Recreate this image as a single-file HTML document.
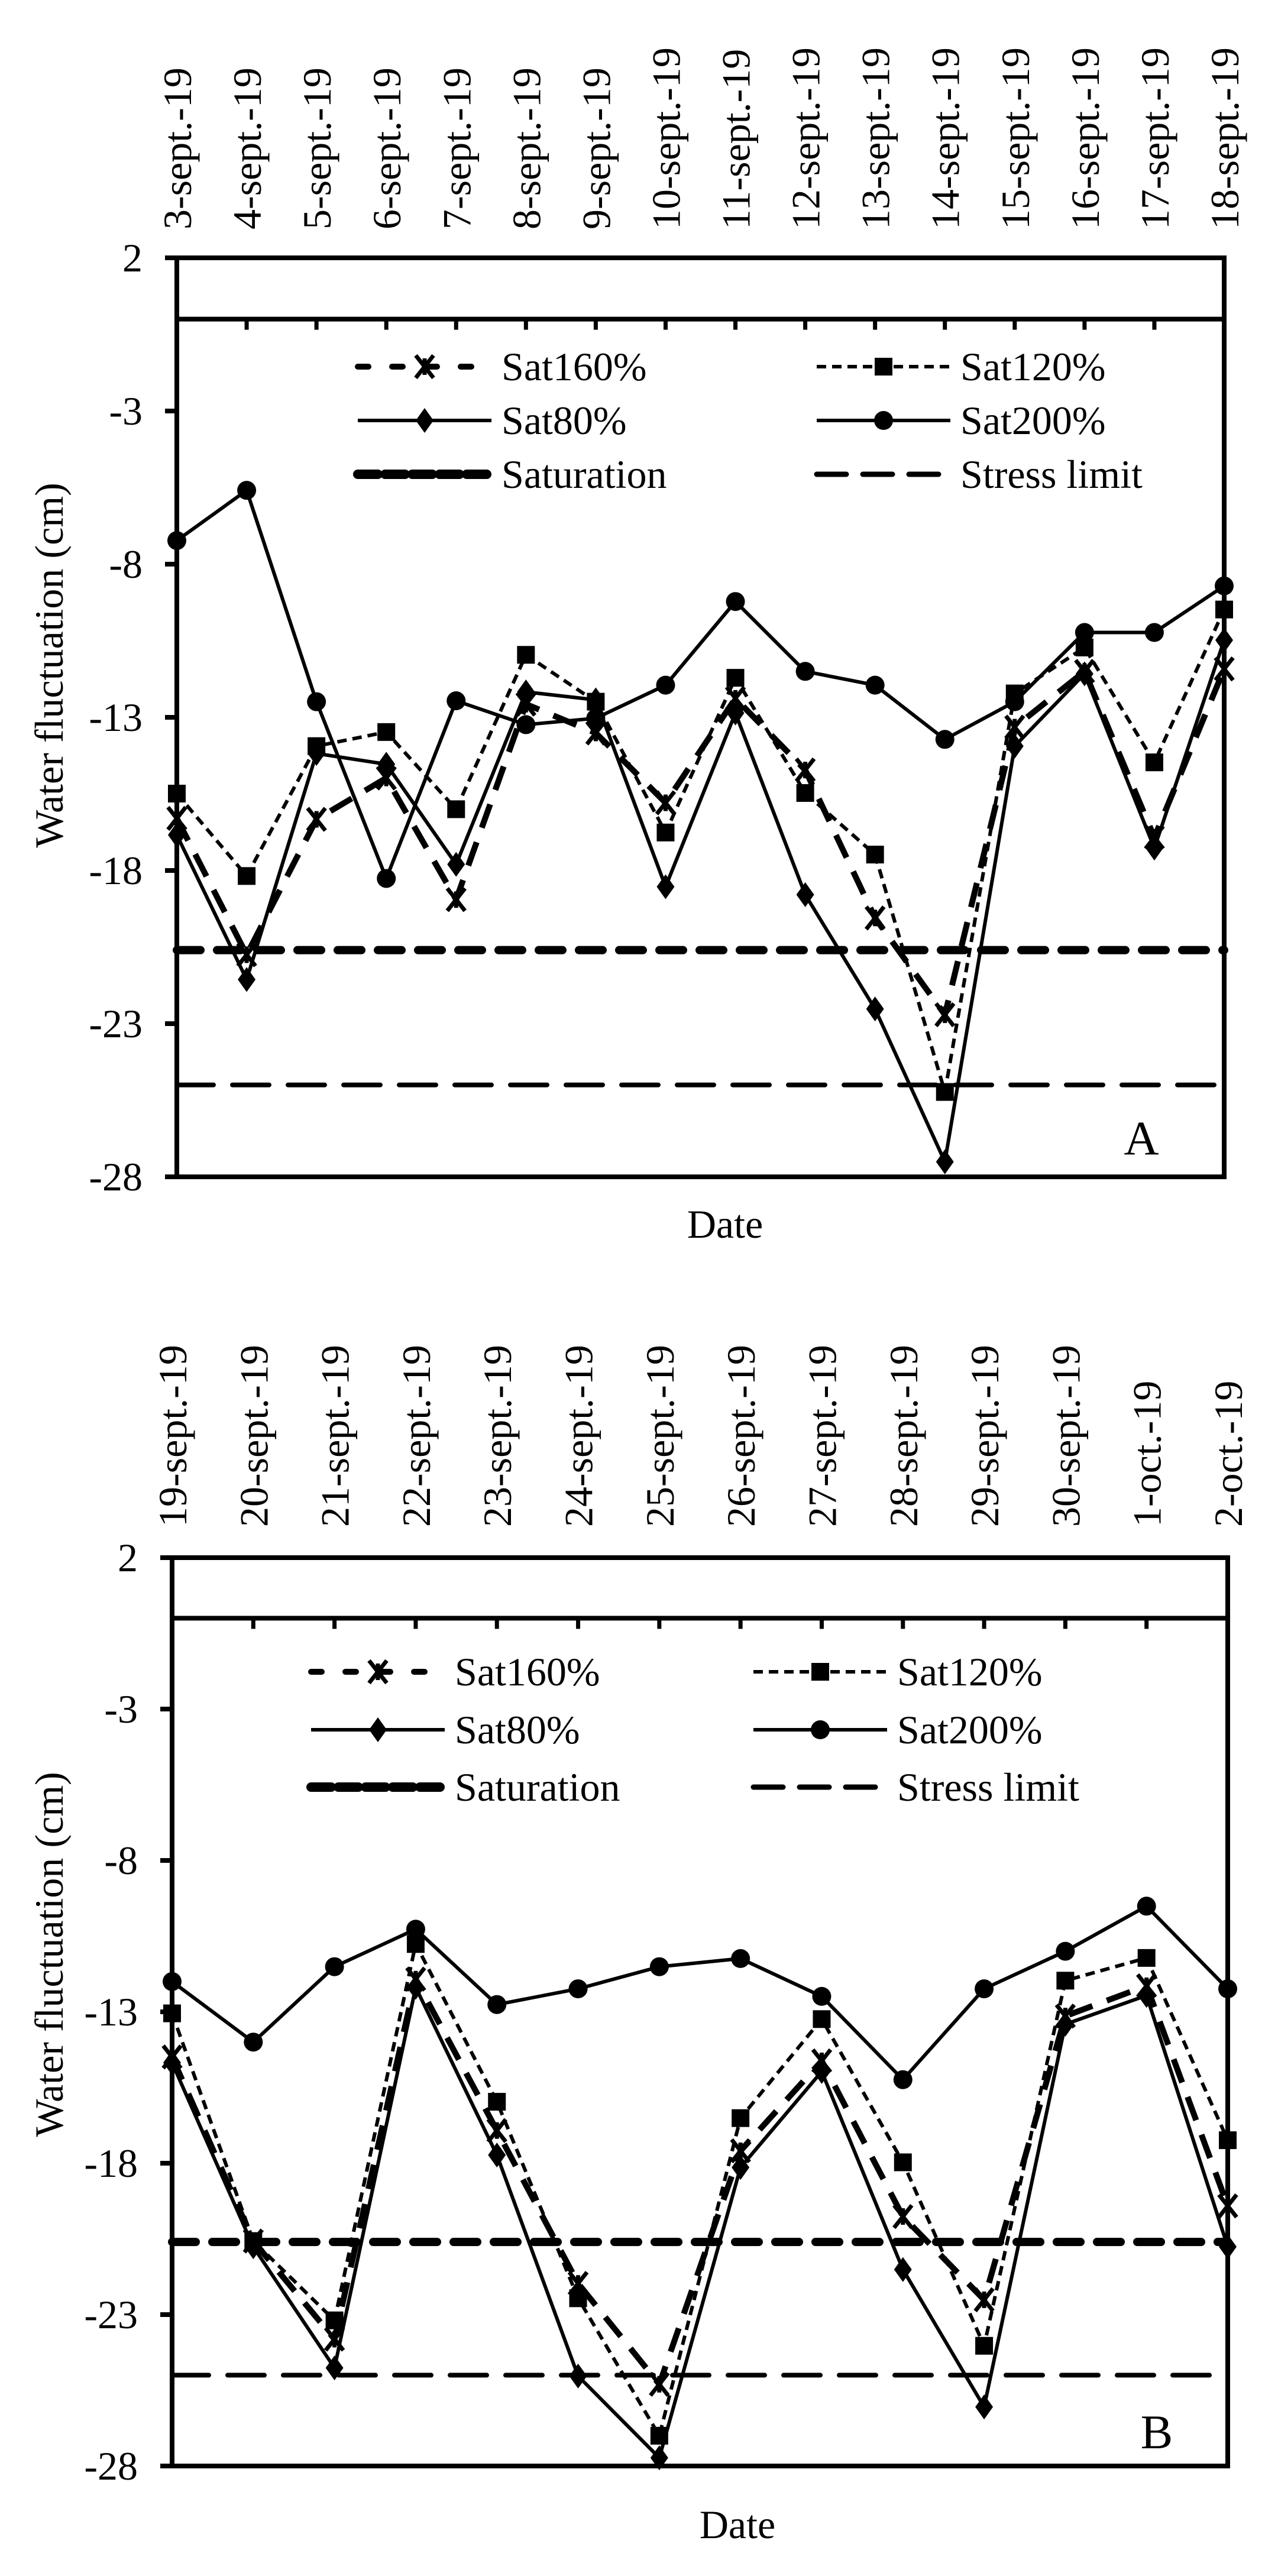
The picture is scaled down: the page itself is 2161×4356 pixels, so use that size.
<!DOCTYPE html>
<html><head><meta charset="utf-8"><style>
html,body{margin:0;padding:0;background:#fff;}
svg{display:block;font-family:"Liberation Serif",serif;}
</style></head><body>
<svg id="chart" width="2161" height="4356" viewBox="0 0 2161 4356" xmlns="http://www.w3.org/2000/svg"></svg>
<script>
// ---- Panel A data ----
const datesA = ["3-sept.-19","4-sept.-19","5-sept.-19","6-sept.-19","7-sept.-19","8-sept.-19","9-sept.-19","10-sept.-19","11-sept.-19","12-sept.-19","13-sept.-19","14-sept.-19","15-sept.-19","16-sept.-19","17-sept.-19","18-sept.-19"];
const sat160A = [-16.3,-20.75,-16.33,-14.98,-18.95,-12.57,-13.51,-15.79,-12.38,-14.72,-19.55,-22.71,-13.32,-11.5,-16.92,-11.42];
const sat120A = [-15.49,-18.18,-13.94,-13.48,-16.0,-10.96,-12.49,-16.76,-11.71,-15.47,-17.48,-25.23,-12.22,-10.72,-14.47,-9.48];
const sat80A = [-16.84,-21.56,-14.18,-14.53,-17.8,-12.17,-12.43,-18.53,-12.86,-18.79,-22.52,-27.51,-13.94,-11.58,-17.27,-10.48];
const sat200A = [-7.23,-5.59,-12.49,-18.26,-12.46,-13.24,-13.03,-11.95,-9.22,-11.5,-11.95,-13.72,-12.49,-10.23,-10.23,-8.71];
// ---- Panel B data ----
const datesB = ["19-sept.-19","20-sept.-19","21-sept.-19","22-sept.-19","23-sept.-19","24-sept.-19","25-sept.-19","26-sept.-19","27-sept.-19","28-sept.-19","29-sept.-19","30-sept.-19","1-oct.-19","2-oct.-19"];
const sat160B = [-14.49,-20.57,-23.81,-11.92,-16.92,-21.97,-25.3,-17.59,-14.62,-19.76,-22.51,-13.14,-12.14,-19.41];
const sat120B = [-13.05,-20.57,-23.19,-10.76,-15.97,-22.46,-27.0,-16.51,-13.24,-17.97,-24.03,-11.97,-11.22,-17.24];
const sat80B = [-14.68,-20.76,-24.76,-12.19,-17.73,-25.03,-27.73,-18.14,-14.97,-21.51,-26.05,-13.41,-12.46,-20.76];
const sat200B = [-12.0,-14.0,-11.51,-10.27,-12.76,-12.24,-11.51,-11.24,-12.49,-15.24,-12.24,-11.0,-9.51,-12.24];
const saturationLevel = -20.6;
const stressLevel = -25;
const yTicks = [2,-3,-8,-13,-18,-23,-28];
const yMin = -28, yMax = 2;

const NS = "http://www.w3.org/2000/svg";
const svg = document.getElementById("chart");
function mk(tag, attrs, parent){
  const e = document.createElementNS(NS, tag);
  for (const k in attrs) e.setAttribute(k, attrs[k]);
  (parent||svg).appendChild(e);
  return e;
}

function drawPanel(p){
  const g = mk("g", {});
  
  
  const n = p.dates.length;
  const xs = i => p.left + (p.right - p.left) * i / (n - 1);
  const ys = v => p.top + (yMax - v) / (yMax - yMin) * (p.bottom - p.top);

  const sat = mk("line", {x1:p.left, x2:p.right, y1:ys(saturationLevel), y2:ys(saturationLevel), stroke:"#000","stroke-width":14,"stroke-dasharray":"40 28","stroke-linecap":"round"}, g);
  
  
  const st = mk("line", {x1:p.left, x2:p.right, y1:ys(stressLevel), y2:ys(stressLevel), stroke:"#000","stroke-width":8,"stroke-dasharray":"62 32","stroke-linecap":"round"}, g);
  
  

  const box = mk("rect", {x:p.left, y:p.top, width:p.right-p.left, height:p.bottom-p.top, fill:"none", stroke:"#000","stroke-width":8}, g);
  
  
  const zl = mk("line", {x1:p.left, x2:p.right, y1:ys(0), y2:ys(0), stroke:"#000","stroke-width":8}, g);
  
  

  for (let i = 0; i < n; i++){
    const x = xs(i);
    if (i > 0 && i < n - 1){
      const t = mk("line", {x1:x, x2:x, y1:ys(0), y2:ys(0)+18, stroke:"#000","stroke-width":7}, g);
      
      
    }
    const tx = mk("text", {x:0, y:0, "font-size":68, "text-anchor":"start", transform:`translate(${x+24},${p.labelBottom}) rotate(-90)`}, g);
    tx.textContent = p.dates[i];
    
    
  }
  yTicks.forEach(v => {
    const y = ys(v);
    const t = mk("line", {x1:p.left-20, x2:p.left, y1:y, y2:y, stroke:"#000","stroke-width":8}, g);
    
    
    const tx = mk("text", {x:p.left-58, y:y+23, "font-size":68, "text-anchor":"end"}, g);
    tx.textContent = String(v);
    
    
  });

  const series = [
    {vals:p.s200, dash:null, w:6, marker:"circle", name:"series-sat200"},
    {vals:p.s80, dash:null, w:6, marker:"diamond", name:"series-sat80"},
    {vals:p.s120, dash:"16 10", w:6, marker:"square", name:"series-sat120"},
    {vals:p.s160, dash:"42 26", w:10, marker:"x", name:"series-sat160"}
  ];
  series.forEach(s => {
    const pts = s.vals.map((v,i)=>xs(i)+","+ys(v)).join(" ");
    const a = {points:pts, fill:"none", stroke:"#000","stroke-width":s.w,"stroke-linejoin":"round"};
    if (s.dash) a["stroke-dasharray"] = s.dash;
    const pl = mk("polyline", a, g);
    
    
    s.vals.forEach((v,i)=>{
      const m = drawMarker(g, s.marker, xs(i), ys(v));
      
      
    });
  });

  const leg = mk("g", {}, g);
  
  
  const L = p.legend;
  const entries = [
    {c:0,r:0,label:"Sat160%",dash:"18 40",w:10,marker:"x"},
    {c:1,r:0,label:"Sat120%",dash:"16 10",w:6,marker:"square"},
    {c:0,r:1,label:"Sat80%",dash:null,w:6,marker:"diamond"},
    {c:1,r:1,label:"Sat200%",dash:null,w:6,marker:"circle"},
    {c:0,r:2,label:"Saturation",dash:"34 12",w:16,marker:null},
    {c:1,r:2,label:"Stress limit",dash:"50 28",w:9,marker:null}
  ];
  entries.forEach(e=>{
    const eg = mk("g", {}, leg);
    
    
    const x0 = L.cols[e.c], y = L.rows[e.r];
    const a = {x1:x0, x2:x0+226, y1:y, y2:y, stroke:"#000","stroke-width":e.w,"stroke-linecap":e.w>8?"round":"butt"};
    if (e.dash) a["stroke-dasharray"] = e.dash;
    mk("line", a, eg);
    if (e.marker) drawMarker(eg, e.marker, x0+113, y);
    const t = mk("text", {x:x0+243, y:y+23, "font-size":68}, eg);
    t.textContent = e.label;
  });

  const yt = mk("text", {x:0, y:0, "font-size":68, "text-anchor":"middle", transform:`translate(${p.yTitleX},${p.yTitleY}) rotate(-90)`}, g);
  yt.textContent = "Water fluctuation (cm)";
  
  
  const xt = mk("text", {x:p.dateX, y:p.dateY, "font-size":68, "text-anchor":"middle"}, g);
  xt.textContent = "Date";
  
  
  const pl = mk("text", {x:p.letterX, y:p.letterY, "font-size":82, "text-anchor":"middle"}, g);
  pl.textContent = p.letter;
  
  
}

function drawMarker(parent, type, x, y){
  if (type === "circle") return mk("circle", {cx:x, cy:y, r:16, fill:"#000"}, parent);
  if (type === "square") return mk("rect", {x:x-15, y:y-15, width:30, height:30, fill:"#000"}, parent);
  if (type === "diamond") return mk("polygon", {points:`${x},${y-21} ${x+15},${y} ${x},${y+21} ${x-15},${y}`, fill:"#000"}, parent);
  const gg = mk("g", {stroke:"#000","stroke-width":7}, parent);
  mk("line", {x1:x-15, y1:y-19, x2:x+15, y2:y+19}, gg);
  mk("line", {x1:x-15, y1:y+19, x2:x+15, y2:y-19}, gg);
  mk("line", {x1:x, y1:y-14, x2:x, y2:y+14}, gg);
  return gg;
}

drawPanel({name:"panel-a", dates:datesA, s160:sat160A, s120:sat120A, s80:sat80A, s200:sat200A,
  left:299, right:2070, top:436, bottom:1990, labelBottom:388,
  legend:{cols:[605,1381], rows:[620,711,802]},
  yTitleX:106, yTitleY:1125, dateX:1226, dateY:2093, letter:"A", letterX:1930, letterY:1952});
drawPanel({name:"panel-b", dates:datesB, s160:sat160B, s120:sat120B, s80:sat80B, s200:sat200B,
  left:291, right:2076, top:2634, bottom:4170, labelBottom:2582,
  legend:{cols:[526,1274], rows:[2827,2925,3022]},
  yTitleX:106, yTitleY:3305, dateX:1247, dateY:4292, letter:"B", letterX:1956, letterY:4140});
</script>
</body></html>
